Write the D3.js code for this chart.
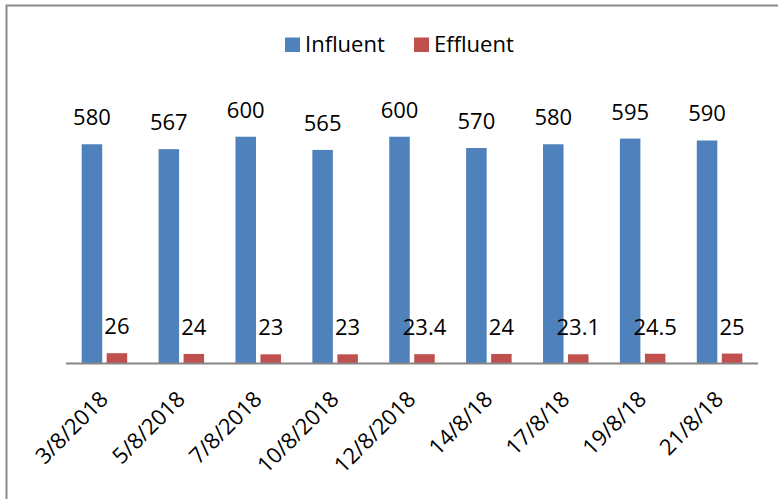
<!DOCTYPE html>
<html>
<head>
<meta charset="utf-8">
<script src="https://cdn.jsdelivr.net/npm/d3@7"></script>
<style>
  html, body { margin: 0; padding: 0; background: #fff; }
  svg { display: block; }
  text { font-family: "Open Sans", Lato, sans-serif; fill: #000; }
</style>
</head>
<body>
<svg id="chart" width="778" height="499"></svg>
<script>
const categories = ["3/8/2018", "5/8/2018", "7/8/2018", "10/8/2018", "12/8/2018", "14/8/18", "17/8/18", "19/8/18", "21/8/18"];
const seriesNames = ["Influent", "Effluent"];
const influent = [580, 567, 600, 565, 600, 570, 580, 595, 590];
const effluent = [26, 24, 23, 23, 23.4, 24, 23.1, 24.5, 25];
const colors = ["#4F81BD", "#C0504D"];

const W = 778, H = 499;
const FONT = "'Open Sans', Lato, sans-serif";
const svg = d3.select("#chart");

// outer frame (only left and top edges are visible in the crop)
svg.append("rect")
  .attr("x", 6.5).attr("y", 5.5)
  .attr("width", 900).attr("height", 700)
  .attr("fill", "none").attr("stroke", "#8a8a8a").attr("stroke-width", 2);

const plotLeft = 66, plotRight = 758, baseY = 363, topY = 99;

const x0 = d3.scaleBand().domain(categories).range([plotLeft, plotRight]).paddingInner(0.408).paddingOuter(0.204);
const x1 = d3.scaleBand().domain(seriesNames).range([0, x0.bandwidth()]).paddingInner(0.18).paddingOuter(0);
const y = d3.scaleLinear().domain([0, 700]).range([baseY, topY]);

const data = categories.map((c, i) => ({ cat: c, values: [
  { s: "Influent", v: influent[i] },
  { s: "Effluent", v: effluent[i] }
]}));

const groups = svg.append("g").selectAll("g").data(data).join("g")
  .attr("transform", d => `translate(${x0(d.cat)},0)`);

groups.selectAll("rect").data(d => d.values).join("rect")
  .attr("x", d => x1(d.s))
  .attr("y", d => y(d.v))
  .attr("width", x1.bandwidth())
  .attr("height", d => y(0) - y(d.v))
  .attr("fill", d => colors[seriesNames.indexOf(d.s)]);

groups.selectAll("text.lbl").data(d => d.values).join("text")
  .attr("class", "lbl")
  .attr("x", d => x1(d.s) + x1.bandwidth() / 2)
  .attr("y", d => y(d.v) - 19)
  .attr("text-anchor", "middle")
  .attr("font-size", 22)
  .text(d => d.v);

// x axis
const xAxis = d3.axisBottom(x0).tickSize(0).tickPadding(0);
const gx = svg.append("g").attr("transform", `translate(0,${baseY + 0.5})`).call(xAxis);
gx.select(".domain").attr("stroke", "#868686").attr("stroke-width", 2)
  .attr("d", `M${plotLeft},0H${plotRight}`);
gx.selectAll(".tick text")
  .attr("font-size", 22)
  .attr("font-family", FONT)
  .attr("fill", "#000")
  .attr("text-anchor", "end")
  .attr("dy", 0)
  .attr("transform", "translate(5,37) rotate(-45)")
  .attr("y", 0).attr("x", 0);

// legend
const legend = svg.append("g");
const legendItems = [{ name: "Influent", x: 285 }, { name: "Effluent", x: 414 }];
legendItems.forEach((it, i) => {
  legend.append("rect").attr("x", it.x).attr("y", 37.5).attr("width", 15).attr("height", 14.5).attr("fill", colors[i]);
  legend.append("text").attr("x", it.x + 20).attr("y", 52).attr("font-size", 22).text(it.name);
});
</script>
</body>
</html>
